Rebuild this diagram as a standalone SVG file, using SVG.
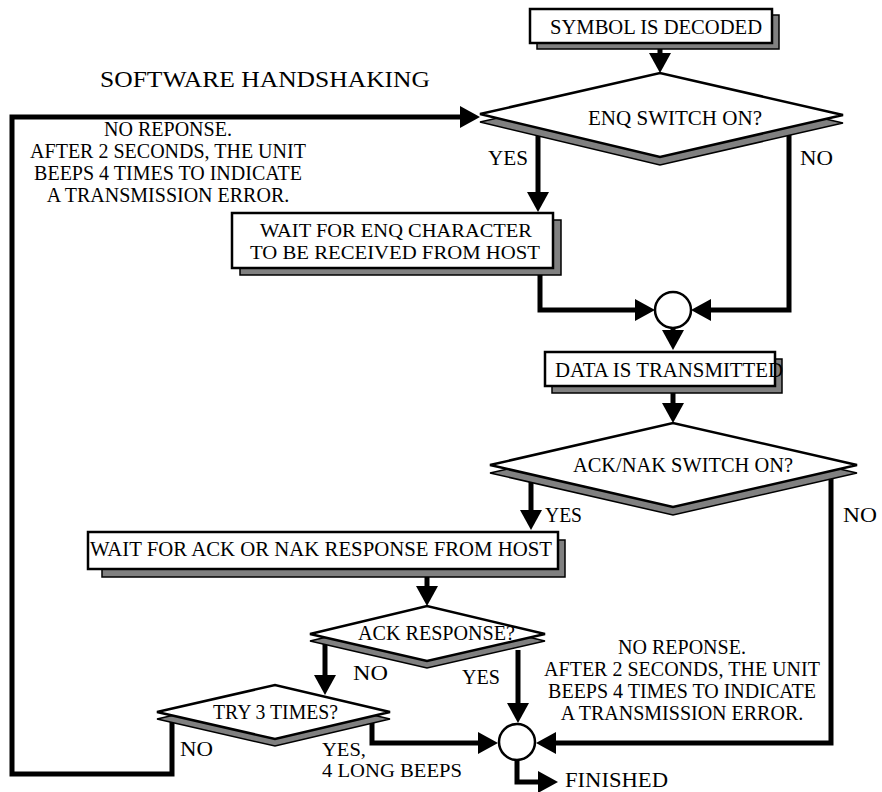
<svg xmlns="http://www.w3.org/2000/svg" width="882" height="792" viewBox="0 0 882 792">
<style>
text{font-family:"Liberation Serif","Times New Roman",serif;font-size:21px;fill:#000}
.note{font-size:20px;text-anchor:middle}
.two{font-size:19px}
.big{font-size:23px}
.conn{fill:none;stroke:#000;stroke-width:5;stroke-linejoin:miter}
.shadow{fill:#808080;stroke:#000;stroke-width:1.5}
.shape{fill:#fff;stroke:#000;stroke-width:2.5}
</style>
<defs>
<marker id="arr" markerUnits="userSpaceOnUse" viewBox="0 0 20 22" markerWidth="20" markerHeight="22" refX="2" refY="11" orient="auto">
<path d="M0,0 L20,11 L0,22 Z" fill="#000"/>
</marker>
</defs>
<rect width="882" height="792" fill="#fff"/>
<text class="big" x="100" y="87" textLength="330" lengthAdjust="spacingAndGlyphs">SOFTWARE HANDSHAKING</text>
<g id="connectors">
<path class="conn" d="M660,49 V55" marker-end="url(#arr)"/>
<path class="conn" d="M538,134 V194" marker-end="url(#arr)"/>
<path class="conn" d="M540,272 V310 H637" marker-end="url(#arr)"/>
<path class="conn" d="M789,134 V310 H709" marker-end="url(#arr)"/>
<path class="conn" d="M673,326 V332" marker-end="url(#arr)"/>
<path class="conn" d="M673,390 V405" marker-end="url(#arr)"/>
<path class="conn" d="M531,480 V512" marker-end="url(#arr)"/>
<path class="conn" d="M427,574 V588" marker-end="url(#arr)"/>
<path class="conn" d="M325,643 V677" marker-end="url(#arr)"/>
<path class="conn" d="M518,650 V705" marker-end="url(#arr)"/>
<path class="conn" d="M372,720 V743 H480" marker-end="url(#arr)"/>
<path class="conn" d="M831,477 V743 H554" marker-end="url(#arr)"/>
<path class="conn" d="M172,720 V774 H12 V117 H462" marker-end="url(#arr)"/>
<path class="conn" d="M517,758 V782 H540" marker-end="url(#arr)"/>
<text x="488" y="165" textLength="40" lengthAdjust="spacingAndGlyphs">YES</text>
<text x="800" y="165" textLength="33" lengthAdjust="spacingAndGlyphs">NO</text>
<text x="545" y="522" textLength="37" lengthAdjust="spacingAndGlyphs">YES</text>
<text x="843" y="522" textLength="34" lengthAdjust="spacingAndGlyphs">NO</text>
<text x="353" y="680" textLength="35" lengthAdjust="spacingAndGlyphs">NO</text>
<text x="462" y="684" textLength="38" lengthAdjust="spacingAndGlyphs">YES</text>
<text x="180" y="756" textLength="33" lengthAdjust="spacingAndGlyphs">NO</text>
<text class="two" x="322" y="756" textLength="44" lengthAdjust="spacingAndGlyphs">YES,</text>
<text class="two" x="322" y="777" textLength="140" lengthAdjust="spacingAndGlyphs">4 LONG BEEPS</text>
<text x="565" y="787" textLength="103" lengthAdjust="spacingAndGlyphs">FINISHED</text>
<text class="note" x="168" y="136">NO REPONSE.</text>
<text class="note" x="168" y="158">AFTER 2 SECONDS, THE UNIT</text>
<text class="note" x="168" y="180">BEEPS 4 TIMES TO INDICATE</text>
<text class="note" x="168" y="202">A TRANSMISSION ERROR.</text>
<text class="note" x="682" y="654">NO REPONSE.</text>
<text class="note" x="682" y="676">AFTER 2 SECONDS, THE UNIT</text>
<text class="note" x="682" y="698">BEEPS 4 TIMES TO INDICATE</text>
<text class="note" x="682" y="720">A TRANSMISSION ERROR.</text>
</g>
<g id="symbol-decoded">
<rect class="shadow" x="537" y="15" width="242" height="34"/>
<rect class="shape" x="530" y="9" width="242" height="34"/>
<text x="550" y="34" textLength="212" lengthAdjust="spacingAndGlyphs">SYMBOL IS DECODED</text>
</g>
<g id="enq-switch">
<polygon class="shadow" points="480,122 660,81 843,123 660,165"/>
<polygon class="shape" points="480,114 660,73 843,115 660,157"/>
<text x="588" y="125" textLength="174" lengthAdjust="spacingAndGlyphs">ENQ SWITCH ON?</text>
</g>
<g id="wait-enq">
<rect class="shadow" x="240" y="220" width="321" height="55"/>
<rect class="shape" x="232" y="213" width="321" height="55"/>
<text class="two" x="260" y="237" textLength="272" lengthAdjust="spacingAndGlyphs">WAIT FOR ENQ CHARACTER</text>
<text class="two" x="250" y="259" textLength="290" lengthAdjust="spacingAndGlyphs">TO BE RECEIVED FROM HOST</text>
</g>
<g id="join-1">
<circle class="shape" cx="673" cy="310" r="18"/>
</g>
<g id="data-transmitted">
<rect class="shadow" x="552" y="359" width="230" height="34"/>
<rect class="shape" x="545" y="352" width="230" height="34"/>
<text x="555" y="377" textLength="228" lengthAdjust="spacingAndGlyphs">DATA IS TRANSMITTED</text>
</g>
<g id="ack-nak-switch">
<polygon class="shadow" points="490,473 673,431 857,473 673,515"/>
<polygon class="shape" points="490,465 673,423 857,465 673,507"/>
<text x="573" y="472" textLength="220" lengthAdjust="spacingAndGlyphs">ACK/NAK SWITCH ON?</text>
</g>
<g id="wait-ack">
<rect class="shadow" x="102" y="540" width="463" height="37"/>
<rect class="shape" x="88" y="532" width="470" height="37"/>
<text x="90" y="556" textLength="462" lengthAdjust="spacingAndGlyphs">WAIT FOR ACK OR NAK RESPONSE FROM HOST</text>
</g>
<g id="ack-response">
<polygon class="shadow" points="310,641 427,613 545,641 427,668"/>
<polygon class="shape" points="310,634 427,606 545,634 427,661"/>
<text x="358" y="640" textLength="157" lengthAdjust="spacingAndGlyphs">ACK RESPONSE?</text>
</g>
<g id="try-3-times">
<polygon class="shadow" points="157,719 275,692 390,719 275,746"/>
<polygon class="shape" points="157,712 275,685 390,712 275,739"/>
<text x="213" y="719" textLength="125" lengthAdjust="spacingAndGlyphs">TRY 3 TIMES?</text>
</g>
<g id="join-2">
<circle class="shape" cx="517" cy="742" r="18"/>
</g>
</svg>
